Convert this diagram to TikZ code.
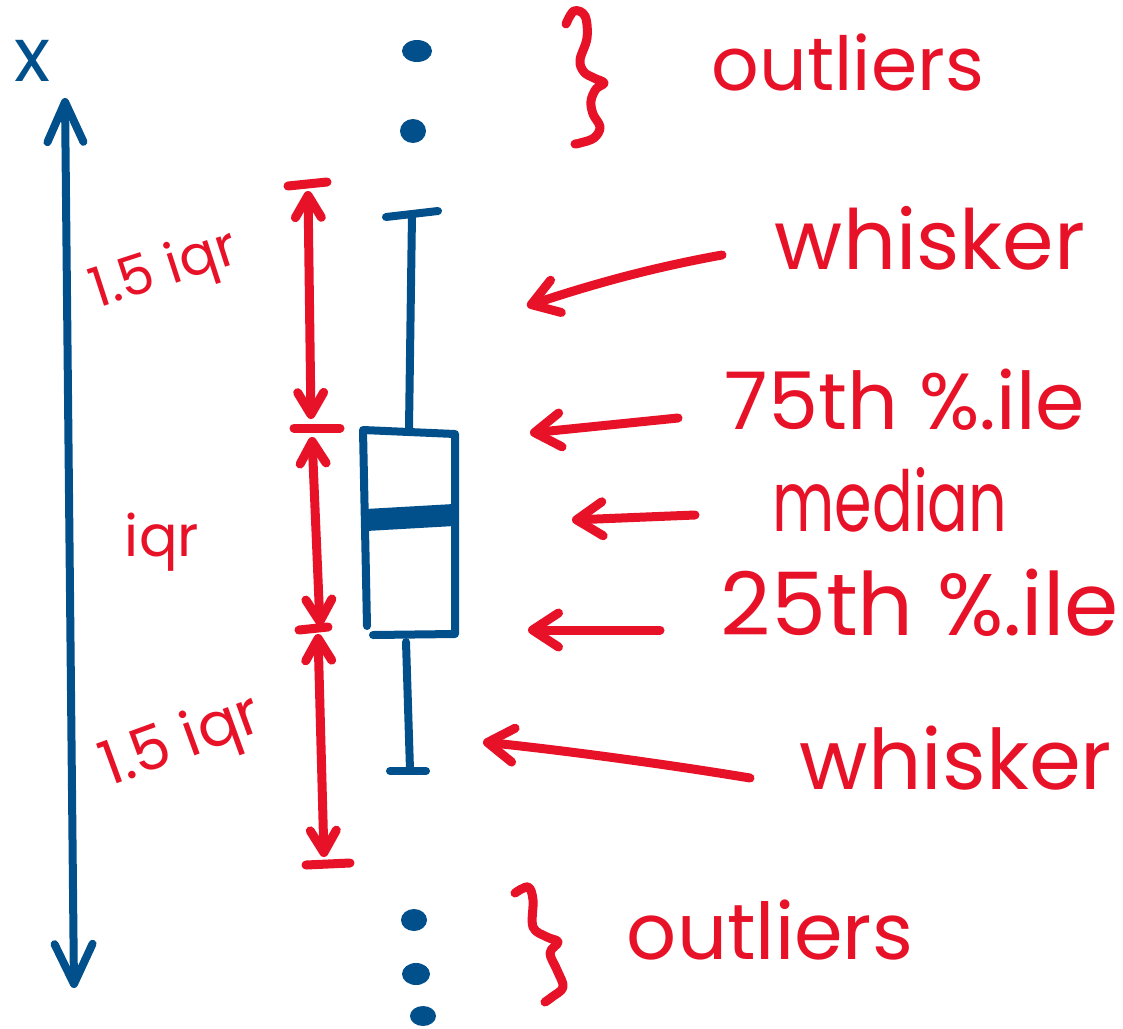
\documentclass[tikz,border=0pt]{standalone}
\usepackage{fontspec}
\setmainfont{Poppins}
\usetikzlibrary{arrows.meta}
\definecolor{pen}{HTML}{01508C}
\definecolor{ink}{HTML}{E81228}
\begin{document}
\begin{tikzpicture}[x=1pt,y=-1pt,
  blueline/.style={draw=pen,line width=8pt,line cap=round,line join=round},
  redline/.style={draw=ink,line width=9pt,line cap=round,line join=round},
  bluetips/.style={{Straight Barb[length=40pt,width=36pt,round]}-{Straight Barb[length=40pt,width=38pt,round]}},
  dimtips/.style={{Straight Barb[length=22pt,width=26pt,round]}-{Straight Barb[length=22pt,width=26pt,round]}},
  redtip/.style={-{Straight Barb[length=26pt,width=34pt,round]}},
  lbl/.style={text=ink,inner sep=0pt,outer sep=0pt},
  axlbl/.style={text=pen,inner sep=0pt,outer sep=0pt},
  dot/.style={fill=pen}
]
\useasboundingbox[fill=white] (0,0) rectangle (1123,1028);

% axis
\node[axlbl] (xlab) at (33,61) {\resizebox{36pt}{!}{x}};
\coordinate (axtop) at (65,98);
\coordinate (axbot) at (74,988);
\draw[blueline,bluetips] (axtop) -- (axbot);

% outliers (dots)
\fill[dot] (417,51) ellipse [x radius=15pt, y radius=11pt];
\fill[dot] (413,131) ellipse [x radius=13pt, y radius=12pt];
\fill[dot] (414,920) ellipse [x radius=13pt, y radius=11pt];
\fill[dot] (416,974) ellipse [x radius=14pt, y radius=11pt];
\fill[dot] (423,1016) ellipse [x radius=13pt, y radius=10pt];

% box plot
\coordinate (capTL) at (386,217);
\coordinate (capTR) at (438,211);
\coordinate (stemT) at (412,214);
\coordinate (stemTb) at (409,428);
\draw[blueline] (capTL) -- (capTR);
\draw[blueline] (stemT) -- (stemTb);
\coordinate (bTL) at (363,430);
\coordinate (bTR) at (455,434);
\coordinate (bBR) at (455,634);
\coordinate (bBL) at (373,635);
\coordinate (bLB) at (367,626);
\draw[blueline] (bLB) -- (bTL) -- (bTR) -- (bBR) -- (bBL);
\coordinate (medL) at (366,520);
\coordinate (medR) at (454,515);
\draw[pen,line width=22pt] (medL) -- (medR);
\coordinate (stemB) at (406,642);
\coordinate (stemBb) at (410,770);
\draw[blueline] (stemB) -- (stemBb);
\coordinate (capBL) at (390,771);
\coordinate (capBR) at (426,771);
\draw[blueline] (capBL) -- (capBR);

% dimension arrows
\coordinate (c1L) at (288,186); \coordinate (c1R) at (327,182);
\coordinate (c2L) at (294,428); \coordinate (c2R) at (340,428);
\coordinate (c3L) at (299,630); \coordinate (c3R) at (328,627);
\coordinate (c4L) at (306,865); \coordinate (c4R) at (350,863);
\draw[redline] (c1L) -- (c1R);
\draw[redline] (c2L) -- (c2R);
\draw[redline] (c3L) -- (c3R);
\draw[redline] (c4L) -- (c4R);
\coordinate (dA1) at (308,191); \coordinate (dA2) at (311,419);
\coordinate (dB1) at (312,437); \coordinate (dB2) at (320,626);
\coordinate (dC1) at (318,634); \coordinate (dC2) at (324,857);
\draw[redline,dimtips] (dA1) -- (dA2);
\draw[redline,dimtips] (dB1) -- (dB2);
\draw[redline,dimtips] (dC1) -- (dC2);

% left labels
\node[lbl,rotate=18] (ua) at (165,272) {\resizebox{150pt}{!}{1.5 iqr}};
\node[lbl] (um) at (162,542) {\resizebox{74pt}{!}{iqr}};
\node[lbl,rotate=20] (ub) at (182,744) {\resizebox{166pt}{!}{1.5 iqr}};

% braces
\draw[redline] plot[smooth,tension=0.6] coordinates {(566,24) (574,11) (585,16) (587,38) (580,60) (584,72) (594,78) (604,83) (596,89) (591,101) (593,114) (600,127) (594,138) (580,143) (575,144)};
\draw[redline] plot[smooth,tension=0.6] coordinates {(515,893) (528,887) (533,900) (533,927) (547,937) (558,942) (550,953) (557,970) (563,987) (552,997) (545,1002)};

% right labels
\node[lbl] (out1) at (848,62) {\resizebox{272pt}{!}{outliers}};
\node[lbl] (wh1) at (930,238) {\resizebox{310pt}{!}{whisker}};
\node[lbl] (q75) at (905,400) {\resizebox{360pt}{!}{75th \%.ile}};
\node[lbl] (med) at (890,500) {\resizebox{235pt}{64pt}{median}};
\node[lbl] (q25) at (920,603) {\resizebox{398pt}{!}{25th \%.ile}};
\node[lbl] (wh2) at (956,758) {\resizebox{312pt}{!}{whisker}};
\node[lbl] (out2) at (770,930) {\resizebox{286pt}{!}{outliers}};

% pointer arrows
\coordinate (p1t) at (722,255); \coordinate (p1h) at (527,306);
\coordinate (p2t) at (678,418); \coordinate (p2h) at (530,433);
\coordinate (p3t) at (695,515); \coordinate (p3h) at (572,520);
\coordinate (p4t) at (660,630); \coordinate (p4h) at (528,630);
\coordinate (p5t) at (750,778); \coordinate (p5h) at (483,742);
\draw[redline,redtip] (p1t) .. controls (650,268) and (590,285) .. (p1h);
\draw[redline,redtip] (p2t) -- (p2h);
\draw[redline,redtip] (p3t) -- (p3h);
\draw[redline,redtip] (p4t) -- (p4h);
\draw[redline,redtip] (p5t) .. controls (690,768) and (580,752) .. (p5h);
\end{tikzpicture}
\end{document}
